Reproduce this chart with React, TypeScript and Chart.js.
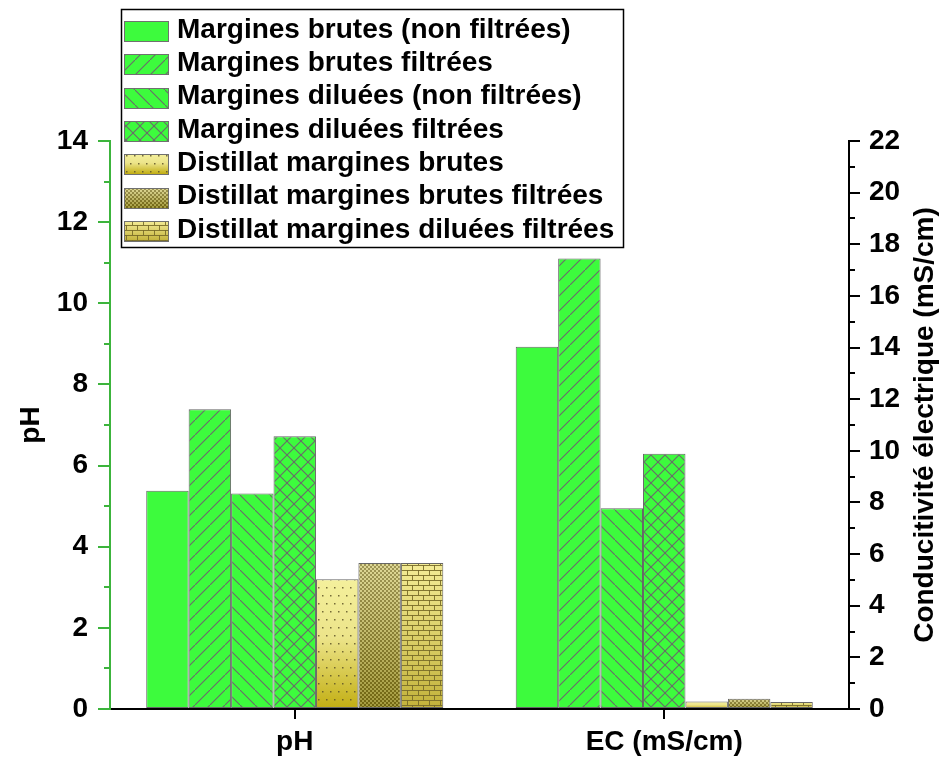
import React, { useEffect, useRef } from 'react';
import { Chart, registerables } from 'chart.js';

Chart.register(...registerables);

// ---------------- data ----------------
const categories = ['pH', 'EC (mS/cm)'];
const seriesNames = [
  'Margines brutes (non filtrées)',
  'Margines brutes filtrées',
  'Margines diluées (non filtrées)',
  'Margines diluées filtrées',
  'Distillat margines brutes',
  'Distillat margines brutes filtrées',
  'Distillat margines diluées filtrées',
];
const phValues = [5.38, 7.39, 5.31, 6.72, 3.2, 3.6, 3.6];
const ecValues = [14.03, 17.45, 7.78, 9.89, 0.29, 0.4, 0.27];
const fillKinds = ['solid', 'slash', 'backslash', 'cross', 'dots', 'checker', 'bricks'];
const leftAxisTitle = 'pH';
const rightAxisTitle = 'Conducitivité électrique (mS/cm)';
const phMin = 0, phMax = 14, phStep = 2;
const ecMin = 0, ecMax = 22, ecStep = 2;

// ---------------- styles ----------------
const W = 946, H = 758;
const GREEN = '#3dfb3d';
const HATCH = '#6a6a6a';
const AXIS_GREEN = '#3cb43c';
const FONT_FAMILY = '"Liberation Sans", Arial, sans-serif';
const BOLD = { family: FONT_FAMILY, size: 28, weight: 'bold' as const };

function hatchFill(kind: string): CanvasPattern | string {
  if (kind === 'solid') return GREEN;
  const s = kind === 'cross' ? 14 : 15;
  const c = document.createElement('canvas');
  c.width = s; c.height = s;
  const g = c.getContext('2d')!;
  g.fillStyle = GREEN;
  g.fillRect(0, 0, s, s);
  g.strokeStyle = HATCH;
  g.lineWidth = 1.1;
  const slash = () => {
    g.beginPath(); g.moveTo(-2, s + 2); g.lineTo(s + 2, -2); g.stroke();
  };
  const back = () => {
    g.beginPath(); g.moveTo(-2, -2); g.lineTo(s + 2, s + 2); g.stroke();
  };
  if (kind === 'slash') slash();
  if (kind === 'backslash') back();
  if (kind === 'cross') { slash(); back(); }
  return g.createPattern(c, 'repeat')!;
}

function distFill(kind: string, top: number, bottom: number): CanvasPattern {
  if (!isFinite(top) || !isFinite(bottom)) { top = 560; bottom = 709; }
  const tw = kind === 'bricks' ? 22 : kind === 'dots' ? 8 : 4;
  const c = document.createElement('canvas');
  c.width = tw; c.height = H;
  const g = c.getContext('2d')!;
  const grad = g.createLinearGradient(0, top, 0, Math.max(bottom, top + 1));
  if (kind === 'dots') {
    grad.addColorStop(0, '#f4f09c');
    grad.addColorStop(0.45, '#ece48a');
    grad.addColorStop(1, '#c2ae12');
  } else if (kind === 'checker') {
    grad.addColorStop(0, '#d6ce86');
    grad.addColorStop(1, '#8a7e14');
  } else {
    grad.addColorStop(0, '#f4ec96');
    grad.addColorStop(1, '#c2b23a');
  }
  g.fillStyle = grad;
  g.fillRect(0, 0, tw, H);
  if (kind === 'dots') {
    g.fillStyle = 'rgba(95,85,40,0.85)';
    for (let y = 0, r = 0; y < H; y += 8, r++) {
      g.fillRect(r % 2 ? 6 : 2, y + 3, 1.5, 1.5);
    }
  } else if (kind === 'checker') {
    for (let y = 0; y < H; y += 2) {
      for (let x = 0; x < tw; x += 2) {
        const on = ((x + y) / 2) % 2 === 0;
        g.fillStyle = on ? 'rgba(70,60,10,0.38)' : 'rgba(255,255,215,0.22)';
        g.fillRect(x, y, 2, 2);
      }
    }
  } else {
    g.fillStyle = 'rgba(120,108,40,0.9)';
    for (let y = 0, r = 0; y < H; y += 5, r++) {
      g.fillRect(0, y, tw, 1);
      const off = r % 2 ? 5 : 0;
      g.fillRect(off, y, 1, 5);
      g.fillRect(off + 11, y, 1, 5);
    }
  }
  return g.createPattern(c, 'repeat')!;
}

function fillFor(kind: string, top: number, bottom: number) {
  if (['dots', 'checker', 'bricks'].includes(kind)) return distFill(kind, top, bottom);
  return hatchFill(kind);
}

function barBackground(i: number) {
  return (c: any) => {
    const raw = c.raw;
    if (raw === null || raw === undefined) return 'rgba(0,0,0,0)';
    const kind = fillKinds[i];
    const sc = c.chart.scales && c.chart.scales[c.dataset.yAxisID];
    let top = NaN, bottom = NaN;
    if (sc) {
      top = sc.getPixelForValue(raw);
      bottom = sc.getPixelForValue(0);
    }
    return fillFor(kind, top, bottom);
  };
}

const overlayPlugin = {
  id: 'overlay',
  afterDraw(chart: any) {
    const ctx: CanvasRenderingContext2D = chart.ctx;
    const { left, right, top, bottom } = chart.chartArea;
    ctx.save();
    // minor ticks
    const y = chart.scales.y;
    const y1 = chart.scales.y1;
    ctx.lineWidth = 2;
    ctx.strokeStyle = AXIS_GREEN;
    for (let v = phMin + phStep / 2; v < phMax; v += phStep) {
      const py = Math.round(y.getPixelForValue(v));
      ctx.beginPath(); ctx.moveTo(left - 6, py); ctx.lineTo(left, py); ctx.stroke();
    }
    ctx.strokeStyle = '#000';
    for (let v = ecMin + ecStep / 2; v < ecMax; v += ecStep) {
      const py = Math.round(y1.getPixelForValue(v));
      ctx.beginPath(); ctx.moveTo(right, py); ctx.lineTo(right + 6, py); ctx.stroke();
    }
    // axis titles
    ctx.fillStyle = '#000';
    ctx.font = `bold 28px ${FONT_FAMILY}`;
    ctx.textAlign = 'center';
    ctx.textBaseline = 'middle';
    const cy = (top + bottom) / 2;
    ctx.save();
    ctx.translate(31, cy);
    ctx.rotate(-Math.PI / 2);
    ctx.fillText(leftAxisTitle, 0, 0);
    ctx.restore();
    ctx.save();
    ctx.translate(925, cy);
    ctx.rotate(-Math.PI / 2);
    ctx.fillText(rightAxisTitle, 0, 0);
    ctx.restore();

    // legend
    const lx = 121, ly = 9, lw = 502, lh = 238;
    ctx.fillStyle = '#fff';
    ctx.fillRect(lx, ly, lw, lh);
    ctx.strokeStyle = '#000';
    ctx.lineWidth = 1.5;
    ctx.strokeRect(lx + 0.5, ly + 0.5, lw, lh);
    ctx.textAlign = 'left';
    ctx.textBaseline = 'middle';
    seriesNames.forEach((name, i) => {
      const rowY = 31 + i * 33.3;
      const bx = 124, by = Math.round(rowY - 10), bw = 44, bh = 20;
      ctx.fillStyle = fillFor(fillKinds[i], by, by + bh) as any;
      ctx.fillRect(bx, by, bw, bh);
      ctx.strokeStyle = '#707070';
      ctx.lineWidth = 1;
      ctx.strokeRect(bx + 0.5, by + 0.5, bw, bh);
      ctx.fillStyle = '#000';
      ctx.fillText(name, 177, rowY - 1);
    });
    ctx.restore();
  },
};

export default function App() {
  const ref = useRef<HTMLCanvasElement | null>(null);
  useEffect(() => {
    document.body.style.margin = '0';
    const canvas = ref.current!;
    const datasets: any[] = [];
    seriesNames.forEach((name, i) => {
      datasets.push({
        label: name,
        data: [phValues[i], null],
        yAxisID: 'y',
        stack: 's' + i,
        backgroundColor: barBackground(i),
        borderColor: '#666666',
        borderWidth: 1,
        borderSkipped: false,
        categoryPercentage: 0.804,
        barPercentage: 1,
      });
    });
    seriesNames.forEach((name, i) => {
      datasets.push({
        label: name,
        data: [null, ecValues[i]],
        yAxisID: 'y1',
        stack: 's' + i,
        backgroundColor: barBackground(i),
        borderColor: '#666666',
        borderWidth: 1,
        borderSkipped: false,
        categoryPercentage: 0.804,
        barPercentage: 1,
      });
    });
    const chart = new Chart(canvas, {
      type: 'bar',
      data: { labels: categories, datasets },
      options: {
        responsive: false,
        animation: false,
        devicePixelRatio: 1,
        layout: { padding: { top: 141, left: 0, right: 0, bottom: 0 } },
        plugins: { legend: { display: false }, tooltip: { enabled: false }, title: { display: false } },
        scales: {
          x: {
            offset: true,
            grid: { display: true, drawOnChartArea: false, drawTicks: true, tickLength: 10, offset: false, color: '#000', lineWidth: 2 },
            border: { display: true, color: '#000', width: 2 },
            ticks: { color: '#000', font: BOLD, padding: 6, autoSkip: false, maxRotation: 0 },
            afterFit: (s: any) => { s.height = 49; },
          },
          y: {
            position: 'left',
            min: phMin, max: phMax,
            ticks: { stepSize: phStep, color: '#000', font: BOLD, padding: 10, autoSkip: false },
            grid: { drawOnChartArea: false, tickLength: 12, color: AXIS_GREEN, lineWidth: 2 },
            border: { display: true, color: AXIS_GREEN, width: 2 },
            afterFit: (s: any) => { s.width = 110; },
          },
          y1: {
            position: 'right',
            min: ecMin, max: ecMax,
            ticks: { stepSize: ecStep, color: '#000', font: BOLD, padding: 9, autoSkip: false },
            grid: { drawOnChartArea: false, tickLength: 11, color: '#000', lineWidth: 2 },
            border: { display: true, color: '#000', width: 2 },
            afterFit: (s: any) => { s.width = 97; },
          },
        },
      } as any,
      plugins: [overlayPlugin],
    });
    return () => chart.destroy();
  }, []);
  return (
    <div style={{ width: W, height: H }}>
      <canvas ref={ref} width={W} height={H} style={{ display: 'block' }} />
    </div>
  );
}
